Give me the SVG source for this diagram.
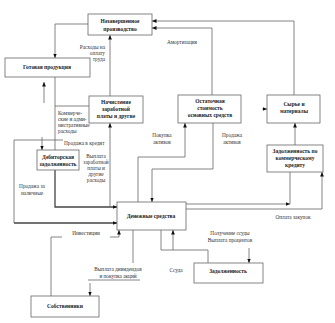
<svg xmlns="http://www.w3.org/2000/svg" width="335" height="323" viewBox="0 0 335 323">
<style>
.box{fill:#fff;stroke:#666;stroke-width:0.8}
.t{font-family:"Liberation Serif",serif;font-size:5.5px;font-weight:bold;fill:#222;text-anchor:middle}
.l{font-family:"Liberation Serif",serif;font-size:5.3px;fill:#333;text-anchor:middle}
.c{fill:none;stroke:#666;stroke-width:0.8}
.k{fill:none;stroke:#444;stroke-width:1.3}
</style>
<defs>
<marker id="a" markerUnits="userSpaceOnUse" markerWidth="5" markerHeight="5" refX="4.5" refY="2.5" orient="auto">
<path d="M0,0.6 L4.5,2.5 L0,4.4 Z" fill="#111"/>
</marker>
</defs>
<rect width="335" height="323" fill="#fff"/>
<g id="connectors">
<path class="c" d="M294,95 V21 H152" marker-end="url(#a)"/>
<path class="c" d="M212,95 V28 H152" marker-end="url(#a)"/>
<path class="c" d="M88,24 H55 V58" marker-end="url(#a)"/>
<path class="c" d="M110,96 V35" marker-end="url(#a)"/>
<path class="c" d="M44,103 V82" marker-end="url(#a)"/>
<path class="c" d="M55,77 V150"/>
<path class="c" d="M89,106 H55"/>
<path class="k" d="M55,170 V207 H117" marker-end="url(#a)"/>
<path class="c" d="M63,140 H14 V223"/>
<path class="k" d="M14,223 H117" marker-end="url(#a)"/>
<path class="c" d="M42,137 V150" marker-end="url(#a)"/>
<path class="c" d="M110,207 V123" marker-end="url(#a)"/>
<path class="c" d="M138,202 V157 H185 V123" marker-end="url(#a)"/>
<path class="c" d="M213,123 V169 H152 V202" marker-end="url(#a)"/>
<path class="c" d="M186,204 H290" marker-end="url(#a)"/>
<path class="c" d="M290,172 V204"/>
<path class="c" d="M186,209 H322 V172" marker-end="url(#a)"/>
<path class="c" d="M295,145 V123" marker-end="url(#a)"/>
<path class="c" d="M262,109 H267" marker-end="url(#a)"/>
<path class="c" d="M51,296 V237 H62"/>
<path class="c" d="M110,237 H119 V230" marker-end="url(#a)"/>
<path class="c" d="M133,230 V263"/>
<path class="c" d="M88,280 H140"/>
<path class="c" d="M90,283 V296" marker-end="url(#a)"/>
<path class="c" d="M208,263 V250 H161 V230"/>
<path class="c" d="M173,250 V230" marker-end="url(#a)"/>
<path class="c" d="M249,248 V263" marker-end="url(#a)"/>
<text class="l" x="182" y="44">Амортизация</text>
<text class="l" style="text-anchor:end" x="105" y="49">Расходы на</text>
<text class="l" style="text-anchor:end" x="105" y="55">оплату</text>
<text class="l" style="text-anchor:end" x="105" y="61">труда</text>
<text class="l" style="text-anchor:start" x="58" y="115">Коммерче-</text>
<text class="l" style="text-anchor:start" x="58" y="121">ские и адми-</text>
<text class="l" style="text-anchor:start" x="58" y="127">нистративные</text>
<text class="l" style="text-anchor:start" x="58" y="133">расходы</text>
<text class="l" style="text-anchor:start" x="64" y="145">Продажа в кредит</text>
<text class="l" x="96" y="158">Выплата</text>
<text class="l" x="96" y="164">заработной</text>
<text class="l" x="96" y="170">платы и</text>
<text class="l" x="96" y="176">другие</text>
<text class="l" x="96" y="182">расходы</text>
<text class="l" x="32" y="188">Продажа за</text>
<text class="l" x="32" y="195">наличные</text>
<text class="l" x="162" y="137">Покупка</text>
<text class="l" x="162" y="144">активов</text>
<text class="l" x="232" y="137">Продажа</text>
<text class="l" x="232" y="144">активов</text>
<text class="l" x="293" y="219">Оплата закупок</text>
<text class="l" x="86" y="235">Инвестиции</text>
<text class="l" x="118" y="271">Выплата дивидендов</text>
<text class="l" x="118" y="278">и покупка акций</text>
<text class="l" x="230" y="235">Получение ссуды</text>
<text class="l" x="230" y="242">Выплата процентов</text>
<text class="l" x="176" y="272">Ссуда</text>
</g>
<g id="n1"><rect class="box" x="88" y="14" width="64" height="21"/><text class="t" x="120" y="23">Незавершенное</text><text class="t" x="120" y="31">производство</text></g>
<g id="n2"><rect class="box" x="5" y="58" width="85" height="19"/><text class="t" x="47" y="69">Готовая продукция</text></g>
<g id="n3"><rect class="box" x="89" y="96" width="54" height="27"/><text class="t" x="116" y="104">Начисление</text><text class="t" x="116" y="111">заработной</text><text class="t" x="116" y="118">платы и другие</text></g>
<g id="n4"><rect class="box" x="178" y="95" width="63" height="28"/><text class="t" x="210" y="103">Остаточная</text><text class="t" x="210" y="110">стоимость</text><text class="t" x="210" y="117">основных средств</text></g>
<g id="n5"><rect class="box" x="267" y="95" width="53" height="28"/><text class="t" x="294" y="106">Сырье и</text><text class="t" x="294" y="113">материалы</text></g>
<g id="n6"><rect class="box" x="267" y="145" width="56" height="27"/><text class="t" x="295" y="153">Задолженность по</text><text class="t" x="295" y="160">коммерческому</text><text class="t" x="295" y="167">кредиту</text></g>
<g id="n7"><rect class="box" x="37" y="150" width="42" height="20"/><text class="t" x="58" y="159">Дебиторская</text><text class="t" x="58" y="166">задолженность</text></g>
<g id="n8"><rect class="box" x="117" y="202" width="69" height="28"/><text class="t" x="151" y="218">Денежные средства</text></g>
<g id="n9"><rect class="box" x="194" y="263" width="69" height="20"/><text class="t" x="228" y="273">Задолженность</text></g>
<g id="n10"><rect class="box" x="31" y="296" width="68" height="21"/><text class="t" x="65" y="308">Собственники</text></g>
</svg>
